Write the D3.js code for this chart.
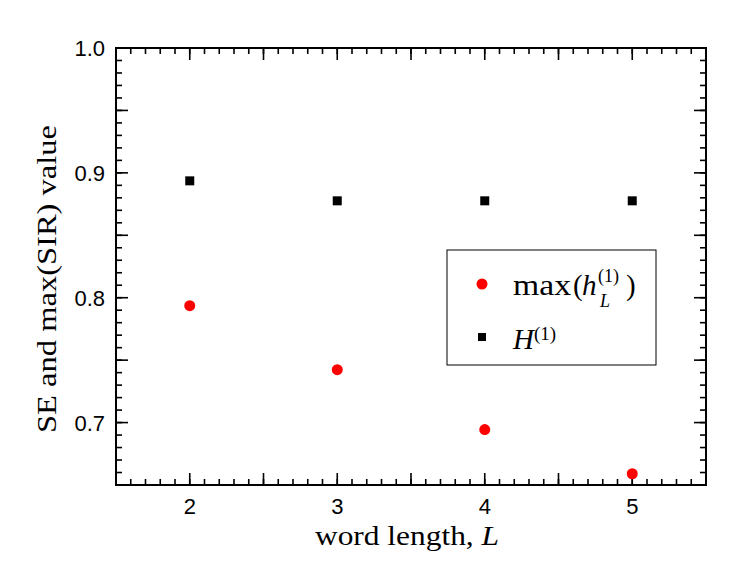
<!DOCTYPE html>
<html>
<head>
<meta charset="utf-8">
<script src="https://cdn.jsdelivr.net/npm/d3@7"></script>
<style>
  body { margin: 0; background: #fff; }
  svg { display: block; }
</style>
</head>
<body>
<svg></svg>
<script>
// data
const wordLength = [2, 3, 4, 5];
const maxH = [0.7936, 0.7424, 0.6944, 0.659];   // red dots
const H1 = [0.8936, 0.8776, 0.8776, 0.8776];     // black squares
const xTickLabels = [2, 3, 4, 5];
const yTickLabels = [0.7, 0.8, 0.9, 1.0];

const width = 747, height = 583;
const plotLeft = 116, plotRight = 706, plotTop = 48, plotBottom = 485;

const svg = d3.select('svg').attr('width', width).attr('height', height);

const xScale = d3.scaleLinear().domain([1.5, 5.5]).range([plotLeft, plotRight]);
const yScale = d3.scaleLinear().domain([0.65, 1.0]).range([plotBottom, plotTop]);

const sans = 'Liberation Sans, Arial, sans-serif';
const serif = 'Liberation Serif, Times New Roman, serif';

// ticks (inward, on all four sides)
const xMajor = d3.range(1.5, 5.51, 0.5);
const xMinor = d3.range(15, 56, 1).map(d => d / 10);
const yMajor = d3.range(65, 101, 5).map(d => d / 100);
const yMinor = d3.range(65, 101, 1).map(d => d / 100);

const tickG = svg.append('g').attr('stroke', '#000').attr('stroke-width', 1.6);
const addX = (vals, len) => {
  vals.forEach(v => {
    const x = xScale(v);
    tickG.append('line').attr('x1', x).attr('x2', x).attr('y1', plotBottom).attr('y2', plotBottom - len);
    tickG.append('line').attr('x1', x).attr('x2', x).attr('y1', plotTop).attr('y2', plotTop + len);
  });
};
const addY = (vals, len) => {
  vals.forEach(v => {
    const y = yScale(v);
    tickG.append('line').attr('x1', plotLeft).attr('x2', plotLeft + len).attr('y1', y).attr('y2', y);
    tickG.append('line').attr('x1', plotRight).attr('x2', plotRight - len).attr('y1', y).attr('y2', y);
  });
};
addX(xMinor, 6);
addX(xMajor, 12);
addY(yMinor, 6);
addY(yMajor, 12);

// frame
svg.append('rect')
  .attr('x', plotLeft).attr('y', plotTop)
  .attr('width', plotRight - plotLeft).attr('height', plotBottom - plotTop)
  .attr('fill', 'none').attr('stroke', '#000').attr('stroke-width', 2);

// tick labels
svg.append('g').selectAll('text').data(xTickLabels).enter().append('text')
  .attr('x', d => xScale(d)).attr('y', plotBottom + 29)
  .attr('text-anchor', 'middle')
  .attr('font-family', sans).attr('font-size', 22)
  .text(d => d);

svg.append('g').selectAll('text').data(yTickLabels).enter().append('text')
  .attr('x', plotLeft - 11).attr('y', d => yScale(d) + 8)
  .attr('text-anchor', 'end')
  .attr('font-family', sans).attr('font-size', 22)
  .text(d => d3.format('.1f')(d));

// axis titles
svg.append('text')
  .attr('x', 315).attr('y', 545)
  .attr('font-family', serif).attr('font-size', 28)
  .attr('textLength', 184).attr('lengthAdjust', 'spacingAndGlyphs')
  .html('word length, <tspan font-style="italic">L</tspan>');

svg.append('text')
  .attr('transform', 'translate(56,433) rotate(-90)')
  .attr('font-family', serif).attr('font-size', 28)
  .attr('textLength', 308).attr('lengthAdjust', 'spacingAndGlyphs')
  .text('SE and max(SIR) value');

// points
svg.append('g').selectAll('circle').data(wordLength).enter().append('circle')
  .attr('cx', (d) => xScale(d))
  .attr('cy', (d, i) => yScale(maxH[i]))
  .attr('r', 5.5)
  .attr('fill', '#ff0000');

svg.append('g').selectAll('rect').data(wordLength).enter().append('rect')
  .attr('x', (d) => xScale(d) - 4.5)
  .attr('y', (d, i) => yScale(H1[i]) - 4.5)
  .attr('width', 9).attr('height', 9)
  .attr('fill', '#000');

// legend
const lg = svg.append('g').attr('transform', 'translate(447,250)');
lg.append('rect').attr('width', 209).attr('height', 115)
  .attr('fill', '#fff').attr('stroke', '#000').attr('stroke-width', 1);
lg.append('circle').attr('cx', 35).attr('cy', 34).attr('r', 5.5).attr('fill', '#ff0000');
lg.append('rect').attr('x', 31).attr('y', 83).attr('width', 8).attr('height', 8).attr('fill', '#000');

const t1 = lg.append('g').attr('font-family', serif).attr('font-size', 29);
t1.append('text').attr('x', 66).attr('y', 45).attr('textLength', 58).attr('lengthAdjust', 'spacingAndGlyphs').text('max');
t1.append('text').attr('x', 126).attr('y', 45).text('(');
t1.append('text').attr('x', 135).attr('y', 45).attr('font-style', 'italic').text('h');
t1.append('text').attr('x', 151).attr('y', 32).attr('font-size', 18).text('(1)');
t1.append('text').attr('x', 153).attr('y', 57).attr('font-size', 18).attr('font-style', 'italic').text('L');
t1.append('text').attr('x', 179).attr('y', 45).text(')');

const t2 = lg.append('g').attr('font-family', serif).attr('font-size', 29);
t2.append('text').attr('x', 66).attr('y', 99).attr('font-style', 'italic').text('H');
t2.append('text').attr('x', 87).attr('y', 90).attr('font-size', 19).text('(1)');
</script>
</body>
</html>
